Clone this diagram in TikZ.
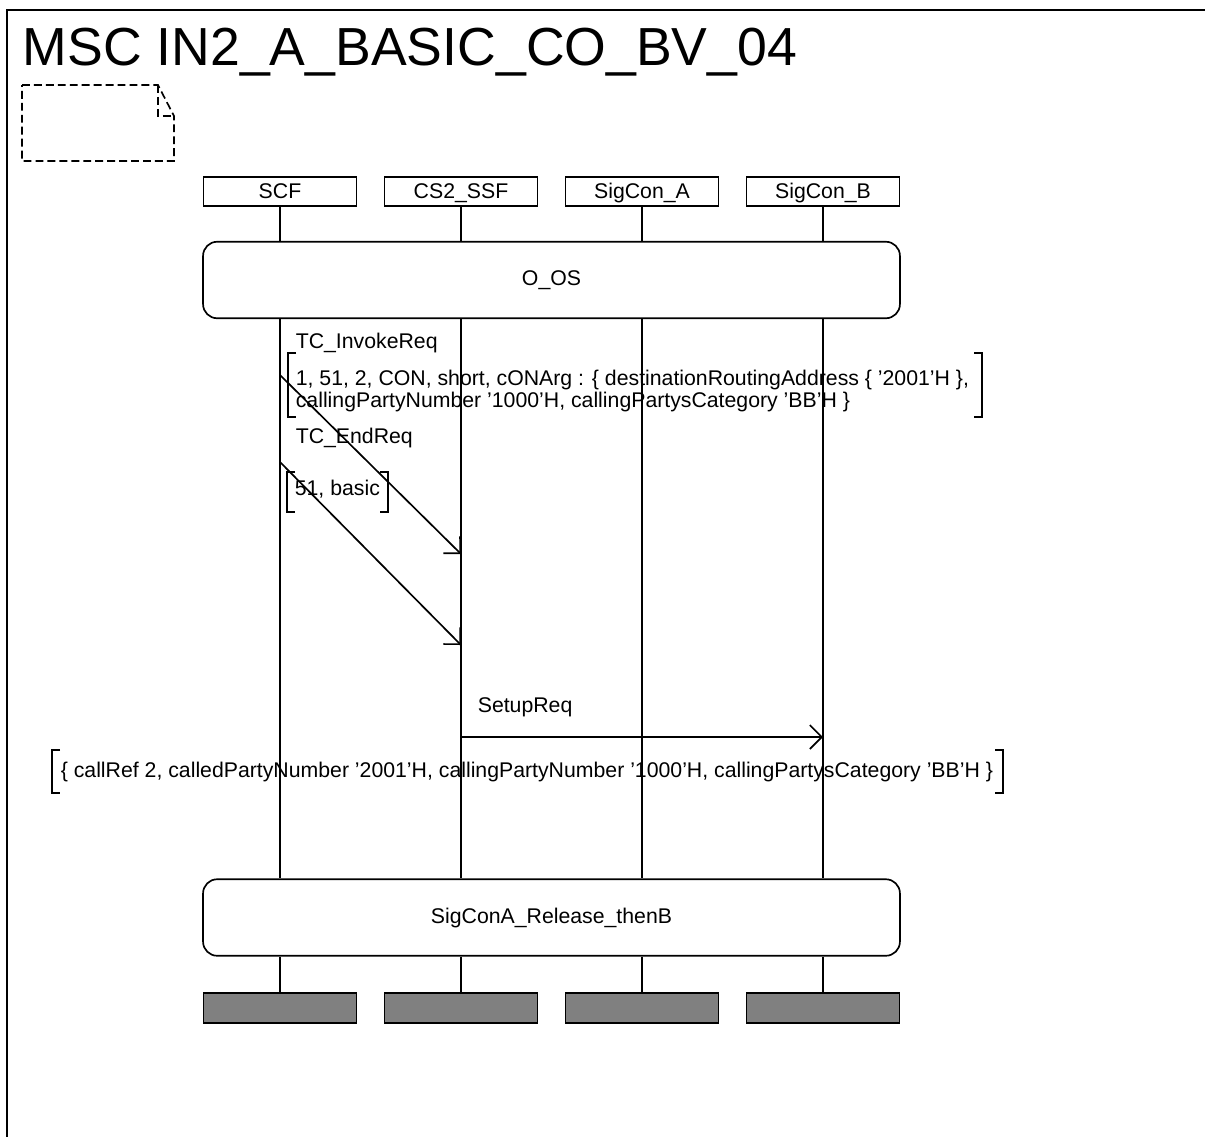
\documentclass[tikz,border=0pt]{standalone}
\usepackage{fontspec}
\setmainfont{Liberation Sans}
\usetikzlibrary{arrows.meta}
\definecolor{endgray}{RGB}{128,128,128}
\begin{document}
\begin{tikzpicture}[x=0.02cm,y=-0.02cm, line width=0.95pt,
  lbl/.style={font=\fontsize{12.1}{13}\selectfont, inner sep=0},
  inst/.style={draw, minimum width=3.06cm, minimum height=0.58cm, inner sep=0, text height=0.9em, text depth=0.15em, font=\fontsize{12.1}{13}\selectfont},
  refbox/.style={draw, rounded corners=8pt, minimum width=13.94cm, minimum height=1.53cm, inner sep=0, font=\fontsize{12.1}{13}\selectfont},
  endbox/.style={draw, fill=endgray, minimum width=3.06cm, minimum height=0.6cm, inner sep=0},
  msg/.style={-{Straight Barb[length=6.8pt,width=13.6pt]}},
  notebox/.style={dashed, dash pattern=on 4.5pt off 2.3pt}]
\useasboundingbox (0,0) rectangle (1205,1137);
% frame
\draw[line width=1.4pt] (7,1137) -- (7,10) -- (1205,10);
\node[anchor=base west, inner sep=0, font=\fontsize{30.5}{34}\selectfont] (title) at (22,65) {MSC IN2\_A\_BASIC\_CO\_BV\_04};
% note
\draw[notebox] (22,85) -- (158,85) -- (174,116) -- (174,161) -- (22,161) -- cycle;
\draw[notebox] (158,85) -- (158,116) -- (174,116);
% instances
\node[inst] (scf) at (280,191.5) {SCF};
\node[inst] (ssf) at (461,191.5) {CS2\_SSF};
\node[inst] (sca) at (642,191.5) {SigCon\_A};
\node[inst] (scb) at (823,191.5) {SigCon\_B};
% references
\node[refbox] (oos) at (551.5,280) {O\_OS};
\node[refbox] (rel) at (551.5,917.5) {SigConA\_Release\_thenB};
% end boxes
\node[endbox] (scfend) at (280,1008) {};
\node[endbox] (ssfend) at (461,1008) {};
\node[endbox] (scaend) at (642,1008) {};
\node[endbox] (scbend) at (823,1008) {};
% lifelines
\foreach \i in {scf,ssf,sca,scb}{
  \draw (\i.south) -- (\i |- oos.north);
  \draw (\i |- oos.south) -- (\i |- rel.north);
  \draw (\i |- rel.south) -- (\i end.north);
}
% messages
\coordinate (m1a) at (280,375);
\coordinate (m1b) at (461,554);
\coordinate (m2a) at (280,462);
\coordinate (m2b) at (461,645);
\coordinate (m3a) at (461,737);
\coordinate (m3b) at (823,737);
\draw[msg] (m1a) -- (m1b);
\draw[msg] (m2a) -- (m2b);
\draw[msg] (m3a) -- (m3b);
% labels
\node[lbl, anchor=base west] (l1) at (295,348) {TC\_InvokeReq};
\node[lbl, anchor=base west] (l2) at (295,443) {TC\_EndReq};
\node[lbl, anchor=base west] (l3) at (477,712) {SetupReq};
% parameters
\node[lbl, anchor=west, align=left] (p1) at (295,391) {1, 51, 2, CON, short, cONArg : \{ destinationRoutingAddress \{ '2001'H \},\\callingPartyNumber '1000'H, callingPartysCategory 'BB'H \}};
\draw (296,353) -- (288,353) -- (288,417) -- (296,417);
\draw (974,353) -- (982,353) -- (982,417) -- (974,417);
\node[lbl, anchor=base west] (p2) at (294,495) {51, basic};
\draw (295,472) -- (287,472) -- (287,512) -- (295,512);
\draw (380,472) -- (388,472) -- (388,512) -- (380,512);
\node[lbl, anchor=base west] (p3) at (60,777) {\{ callRef 2, calledPartyNumber '2001'H, callingPartyNumber '1000'H, callingPartysCategory 'BB'H \}};
\draw (60,750) -- (52,750) -- (52,793) -- (60,793);
\draw (995,750) -- (1003,750) -- (1003,793) -- (995,793);
\end{tikzpicture}
\end{document}
